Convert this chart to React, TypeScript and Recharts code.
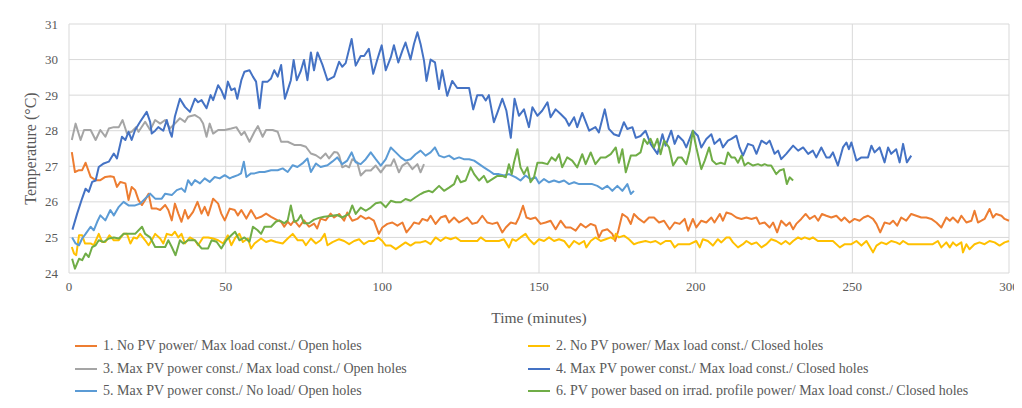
import React from 'react';
import { LineChart, Line, XAxis, YAxis, CartesianGrid } from 'recharts';

// [minute, temperature °C]
const s1: [number, number][] = [[0.9,27.4],[1.9,26.84],[3.2,26.89],[4.2,26.89],[5.3,27.1],[6.9,26.7],[8.5,26.61],[10,26.61],[11.6,26.7],[13.2,26.72],[14.3,26.7],[15.3,26.42],[16.4,26.56],[18,26.52],[19,26.05],[20,26.42],[21.1,26.33],[22.2,26.05],[23.3,25.91],[24.3,26.05],[25.4,26.23],[26.4,25.81],[28,25.81],[29.1,25.77],[30.7,25.91],[31.7,25.77],[32.8,25.48],[33.8,25.95],[34.9,25.67],[35.9,25.44],[37,25.77],[38,25.53],[39.6,25.72],[41,26.0],[42.3,25.67],[43.3,25.86],[44.4,25.62],[46,26.09],[47.6,25.95],[48.6,25.67],[49.7,25.48],[51.3,25.81],[52.9,25.77],[53.9,25.62],[55,25.77],[56.6,25.53],[58.1,25.77],[59.7,25.53],[61.3,25.58],[62.9,25.67],[64.5,25.58],[66.6,25.48],[67.7,25.44],[68.7,25.3],[69.8,25.44],[70.8,25.35],[71.9,25.48],[73.5,25.3],[75,25.48],[76.6,25.3],[78.2,25.39],[79.2,25.25],[80.3,25.53],[81.9,25.48],[83.5,25.67],[84.6,25.56],[86.2,25.66],[87.8,25.47],[88.8,25.7],[90.4,25.47],[92,25.52],[93.1,25.61],[94.7,25.52],[95.7,25.56],[97.3,25.47],[98.9,25.1],[100,25.28],[101.6,25.38],[103.2,25.42],[104.8,25.33],[106.4,25.42],[107.7,25.14],[109,25.28],[110.1,25.42],[111.7,25.38],[112.8,25.52],[114.4,25.47],[115.4,25.61],[117,25.38],[118.6,25.56],[120.2,25.61],[121.3,25.42],[122.9,25.56],[124.5,25.42],[125.5,25.47],[127.1,25.56],[128.7,25.38],[130.3,25.42],[131.9,25.61],[133.5,25.42],[135.1,25.38],[136.7,25.42],[138.3,25.14],[139.4,25.28],[141,25.42],[142.6,25.38],[143.6,25.56],[144.9,25.89],[146,25.56],[147.3,25.52],[148.9,25.56],[150.5,25.38],[152.1,25.42],[153.7,25.47],[155.3,25.23],[156.9,25.47],[158.5,25.28],[160.1,25.28],[161.7,25.19],[163.3,25.38],[164.9,25.28],[166.5,25.38],[168,25.33],[169.1,25.0],[170.2,25.19],[171.8,25.23],[173.4,25.1],[174.3,24.9],[175.3,25.19],[176.6,25.66],[178.2,25.56],[179.3,25.38],[180.3,25.66],[181.9,25.52],[183.5,25.42],[185.1,25.56],[186.7,25.56],[188.3,25.42],[189.9,25.47],[191.7,25.23],[193.3,25.42],[194.9,25.38],[196.5,25.52],[197.6,25.19],[199.1,25.52],[200.2,25.28],[201.8,25.47],[203.4,25.42],[205,25.56],[206,25.42],[207.7,25.66],[208.7,25.47],[209.8,25.7],[211.4,25.66],[213,25.56],[214.6,25.52],[216.2,25.56],[217.8,25.52],[219.4,25.56],[220.4,25.38],[222,25.42],[223.6,25.28],[224.7,25.42],[226,25.14],[227.3,25.47],[228.9,25.33],[230,25.42],[231.1,25.23],[232.1,25.38],[233.7,25.52],[235.1,25.66],[236.4,25.52],[238,25.61],[239.1,25.47],[240.3,25.66],[241.7,25.61],[243.3,25.56],[244.9,25.61],[246.5,25.47],[247.5,25.56],[249.1,25.42],[250.7,25.52],[252.3,25.47],[253.6,25.56],[255,25.61],[256.6,25.52],[257.7,25.38],[258.9,25.14],[260.3,25.42],[261.9,25.38],[263,25.47],[264.3,25.33],[265.6,25.56],[267.2,25.47],[268.8,25.66],[270.4,25.61],[272,25.56],[273.6,25.56],[275.2,25.52],[276.8,25.42],[278.4,25.28],[280,25.56],[281.1,25.47],[282.1,25.56],[283.7,25.42],[284.8,25.61],[286.4,25.42],[288,25.47],[289,25.75],[290.1,25.42],[291.2,25.47],[292.2,25.52],[293.8,25.8],[294.9,25.56],[295.9,25.66],[297.6,25.61],[298.6,25.52],[300,25.47]];

const s2: [number, number][] = [[0.9,24.73],[1.6,24.55],[2.3,24.5],[3.2,25.06],[4.2,25.06],[5.1,24.83],[6.9,24.83],[7.9,24.78],[9.5,25.1],[10.6,24.87],[11.6,24.87],[12.9,25.06],[14.3,24.92],[15.9,24.92],[17.4,25.1],[18.5,25.1],[19.6,24.83],[20.6,25.0],[21.7,24.97],[22.7,25.1],[24.3,24.92],[25.4,24.78],[26.4,24.92],[27.5,25.1],[29.1,24.97],[30.1,24.83],[31.2,25.1],[32.8,25.06],[33.8,25.16],[34.9,25.0],[35.9,25.1],[37,24.83],[38.6,25.0],[40.2,24.92],[41.2,24.78],[42.8,25.0],[44.4,25.0],[46,24.97],[47.6,24.92],[49.2,24.83],[50.7,25.06],[51.8,24.78],[53.1,25.0],[54.4,25.1],[55.5,24.87],[57.1,24.97],[58.1,24.69],[59.2,24.83],[61.3,24.97],[62.9,24.87],[64.5,24.92],[66.1,24.87],[68.2,24.83],[69.8,24.97],[71.4,25.1],[73,24.92],[74.6,24.92],[75.6,24.78],[77.2,24.97],[78.8,24.83],[80.3,24.92],[81.6,25.1],[82.5,24.78],[84.1,24.87],[86.2,24.95],[87.8,24.9],[89.4,24.81],[91,24.9],[92.6,24.95],[94.1,24.81],[95.7,24.9],[97.3,24.9],[98.7,25.0],[100,24.9],[101.1,24.77],[102.7,24.77],[104.3,24.67],[105.9,24.77],[107.4,24.86],[109,24.77],[110.6,24.86],[112.2,24.86],[113.8,24.9],[115.4,24.81],[117,25.0],[118.6,24.9],[120.2,25.0],[121.8,24.95],[123.4,25.0],[125,24.9],[127.7,24.9],[130.3,24.9],[131.4,25.0],[133,24.9],[135.1,24.9],[137.2,24.9],[138.8,24.95],[140.4,24.72],[141.5,24.95],[142.6,24.9],[144.1,25.0],[145.7,25.1],[146.8,24.95],[148.4,24.81],[150,24.95],[151.6,24.9],[153.2,25.0],[154.8,24.9],[156.4,24.95],[158,24.9],[159.6,24.72],[161.2,24.9],[162.8,24.81],[164.4,24.9],[165.1,24.72],[166.5,24.9],[168,25.0],[169.7,24.9],[171.3,24.95],[172.9,25.0],[173.9,24.95],[174.5,25.1],[175.5,25.0],[177.1,25.05],[178.7,24.95],[180.3,24.81],[181.9,24.86],[184,24.9],[185.6,24.86],[187.2,24.9],[188.8,24.81],[190.4,24.9],[192,24.9],[193.3,24.72],[194.4,24.81],[196.5,24.81],[198.1,24.81],[200.2,24.9],[201.3,24.72],[202.3,24.95],[203.9,24.9],[205.5,24.77],[207.1,24.95],[208.2,24.86],[209.8,25.0],[210.8,25.0],[211.9,24.86],[213.5,24.72],[215.1,24.81],[216.2,24.9],[217.8,24.81],[219.4,24.86],[221,24.72],[222.6,24.81],[224.1,24.95],[225.7,24.9],[227.3,24.81],[228.7,24.9],[230,24.81],[231.1,24.9],[232.7,25.0],[233.7,24.95],[234.8,25.0],[236.4,24.95],[237.4,25.0],[239,24.9],[241.7,24.9],[243.8,24.9],[246,24.72],[247.6,24.81],[249.7,24.81],[251.3,24.9],[252.9,24.77],[254.5,24.9],[256.6,24.58],[257.7,24.77],[259.3,24.86],[260.9,24.81],[262.4,24.9],[264,24.86],[265.1,24.81],[266.2,24.9],[267.8,24.81],[269.4,24.81],[271.5,24.81],[273.6,24.81],[275.7,24.81],[277.3,24.9],[278.4,24.72],[280,24.86],[281.1,24.72],[282.1,24.86],[283.2,24.77],[284.8,24.86],[285.3,24.58],[286.4,24.81],[287.4,24.67],[289,24.81],[290.6,24.86],[292.2,24.81],[293.8,24.9],[295.4,24.86],[297,24.77],[298.6,24.86],[300,24.9]];

const s3: [number, number][] = [[0.9,27.74],[2.1,28.2],[3.7,27.74],[4.8,28.02],[6.9,28.02],[8.5,27.74],[10,28.02],[11.6,27.83],[12.7,28.06],[14.3,28.1],[15.9,28.1],[17.1,28.3],[18.5,27.92],[20,27.97],[21.4,28.1],[22.2,27.97],[24.3,28.25],[25.9,28.02],[27.5,28.3],[29.1,28.2],[30.7,28.3],[32.2,28.06],[33.8,28.2],[35.4,28.35],[37,28.25],[38,28.39],[40.2,28.44],[41.8,28.35],[42.8,28.2],[43.9,27.83],[44.9,28.2],[46,27.92],[47.6,28.02],[49.7,28.02],[51.8,28.06],[53.4,28.1],[55,27.88],[56,27.97],[57.6,27.69],[59.2,27.97],[60.3,28.13],[61.8,27.83],[62.9,28.02],[65,28.02],[66.6,27.97],[67.7,27.69],[69.8,27.69],[71.9,27.6],[73.9,27.6],[75.6,27.55],[77.2,27.36],[78.8,27.31],[80.3,27.22],[81.9,27.36],[83,27.22],[84.6,27.4],[85.6,27.39],[86.2,27.31],[87.2,26.97],[88.3,27.02],[89.4,26.97],[90.4,27.2],[92,27.11],[93.1,26.74],[94.7,26.88],[96.3,26.88],[97.9,27.02],[99.5,26.83],[101.1,27.02],[102.7,27.02],[103.7,27.2],[105.3,26.83],[106.4,27.02],[108,27.11],[109.6,26.92],[111.2,27.06],[112.2,26.83],[113.3,27.06]];

const s4: [number, number][] = [[1.1,25.22],[2.6,25.67],[4.2,26.1],[5.3,26.37],[6.3,26.28],[7.4,26.56],[8.5,26.6],[9.5,26.98],[11.1,27.08],[12.7,27.13],[14.3,27.36],[15.3,27.22],[16.9,27.83],[18,27.74],[19,27.97],[20,27.74],[21.1,28.02],[22.7,28.25],[24.8,28.53],[25.9,28.25],[26.4,27.92],[27.5,28.0],[28.5,28.1],[30.1,28.0],[31.2,28.3],[32.2,27.97],[32.8,27.83],[33.8,28.4],[35.4,28.9],[37,28.67],[38.6,28.53],[40.2,28.9],[41.2,28.8],[42.3,28.86],[43.9,28.63],[45.2,29.0],[46,28.86],[47.6,29.28],[48.6,29.14],[49.7,28.9],[50.7,29.38],[51.8,29.14],[52.9,29.19],[53.7,28.9],[55,29.42],[56,29.66],[57.6,29.7],[58.7,29.52],[59.7,29.38],[60.8,28.63],[61.8,29.38],[63.4,29.38],[64.5,29.47],[65.5,29.7],[66.6,29.52],[67.7,29.85],[68.9,28.9],[69.8,29.14],[70.8,29.42],[71.7,29.99],[72.7,29.42],[73.9,29.66],[75,29.99],[76.1,29.42],[77.2,30.2],[78.2,29.7],[79.3,30.2],[80.9,29.85],[82.5,29.42],[84.6,29.52],[86.2,29.94],[87.2,29.8],[88.3,29.9],[90.2,30.58],[91.5,29.83],[93.1,30.1],[94.2,30.1],[95.7,30.3],[97.1,29.6],[98.4,30.0],[99.8,30.4],[101.1,29.7],[102.7,30.06],[103.7,30.4],[105.1,29.92],[106.4,30.25],[107.4,30.48],[109,30.0],[110.1,30.44],[111.2,30.77],[112.2,30.44],[113.3,29.97],[114.1,29.4],[115.4,30.0],[116.8,29.92],[118.1,29.17],[119.1,29.7],[120.7,28.98],[122.3,29.4],[123.9,29.2],[126,29.2],[127.7,29.2],[129,28.6],[130.3,29.0],[131.9,29.0],[133,28.85],[134,29.0],[135.6,28.24],[136.7,28.5],[138.3,28.9],[139.6,28.56],[141,27.8],[142.2,28.9],[143.6,28.42],[145.2,28.6],[146.8,28.1],[147.9,28.66],[149.5,28.42],[151,28.56],[152.7,28.8],[153.7,28.38],[155.3,28.6],[156.9,28.47],[158.5,28.33],[159.6,28.14],[161.2,28.38],[162.2,28.1],[163.8,28.5],[166,28.0],[168,28.1],[169.1,27.95],[171,28.6],[172.3,28.05],[173.9,27.9],[175.5,27.85],[177.1,28.24],[178.2,28.05],[179.8,28.1],[180.9,27.8],[182.4,27.85],[184,28.0],[185.6,27.63],[187.8,27.35],[189.4,27.9],[190.4,27.58],[192.2,28.0],[193.3,27.63],[194.4,27.86],[196,27.72],[197,27.53],[199.1,28.0],[200.7,27.86],[201.8,27.53],[203.4,27.77],[205,27.9],[206,27.63],[207.7,27.77],[208.7,27.53],[210.3,27.72],[211.4,27.77],[213,27.86],[214,27.53],[215.1,27.3],[216.7,27.63],[218.3,27.58],[219.4,27.35],[221,27.72],[222.6,27.63],[223.6,27.72],[225.2,27.35],[226.3,27.44],[227.3,27.2],[228.9,27.35],[231.1,27.58],[232.7,27.44],[234.3,27.53],[235.9,27.35],[237.4,27.44],[238.5,27.25],[240.1,27.53],[241.7,27.25],[242.8,27.25],[243.8,27.39],[245.4,27.02],[247,27.53],[248.1,27.67],[248.9,27.48],[249.7,27.67],[251.3,27.16],[252.9,27.25],[255,27.25],[256.1,27.58],[257.1,27.39],[258.7,27.53],[260.3,27.11],[261.4,27.53],[262.4,27.35],[264,27.48],[265.1,27.11],[266.2,27.63],[267.4,27.11],[268.8,27.3]];

const s5: [number, number][] = [[1,25.0],[2.1,24.83],[3.2,24.78],[4.2,24.97],[5.3,25.1],[6.9,25.3],[7.9,25.2],[9,25.44],[10,25.62],[11.6,25.48],[13.2,25.77],[14.3,25.62],[15.9,25.86],[17.4,26.0],[19,25.9],[21.1,25.9],[22.7,25.95],[24.3,26.09],[25.9,26.23],[27.5,26.09],[29.6,26.09],[30.7,26.23],[32.8,26.19],[34.4,26.33],[35.9,26.38],[37,26.28],[38,26.61],[39.1,26.47],[40.2,26.61],[41.8,26.52],[43.3,26.66],[44.9,26.56],[46.5,26.7],[48.1,26.66],[49.7,26.75],[51.3,26.66],[52.3,26.7],[53.9,26.75],[54.9,26.8],[55.8,27.13],[56.6,26.7],[58.1,26.8],[59.2,26.8],[60.8,26.84],[62.4,26.84],[64.5,26.89],[66.6,26.89],[68.2,26.94],[69.8,26.84],[71.4,27.03],[72.9,26.98],[74.5,27.08],[76.1,27.22],[77.2,26.84],[78.8,27.08],[80.3,26.98],[82.5,27.03],[84,27.13],[85.6,27.25],[87.2,27.06],[88.8,27.16],[90.2,27.39],[91.5,27.11],[93.1,27.06],[94.7,27.2],[96.3,27.39],[97.9,27.2],[99.5,27.02],[101.1,27.2],[102.7,27.53],[104.3,27.39],[105.9,27.25],[107.4,27.16],[109,27.2],[110.6,27.34],[112.2,27.44],[113.8,27.3],[115.4,27.39],[116.8,27.53],[118.1,27.3],[119.7,27.25],[121.3,27.3],[122.9,27.2],[124.5,27.25],[126,27.2],[127.7,27.2],[129.3,27.16],[130.9,27.06],[132.4,26.97],[134,26.88],[135.6,26.78],[137.2,26.78],[138.8,26.74],[140.4,26.78],[142.6,26.69],[144.1,26.6],[145.7,26.74],[147.3,26.64],[148.9,26.69],[150,26.52],[151.6,26.64],[153.2,26.55],[154.8,26.6],[156.4,26.55],[158,26.6],[159.6,26.5],[161.2,26.55],[162.8,26.5],[164.9,26.5],[167,26.5],[168.6,26.45],[170.2,26.36],[171.8,26.45],[173.4,26.31],[175,26.45],[176.6,26.31],[178.2,26.5],[179.3,26.22],[180.3,26.31]];

const s6: [number, number][] = [[1,24.4],[1.9,24.12],[3.2,24.4],[4.2,24.36],[5.3,24.55],[6.3,24.45],[7.4,24.73],[8.5,24.78],[9.5,24.92],[11.1,24.87],[12.7,24.97],[14.3,25.0],[15.9,24.97],[17.4,25.1],[19.5,25.1],[21.1,25.1],[23.3,25.3],[24.3,25.1],[25.9,25.0],[27.5,24.73],[29.1,24.73],[30.7,24.73],[31.7,24.92],[32.8,24.73],[34,24.5],[35.4,24.92],[36.5,24.83],[38,24.92],[40.2,24.92],[42.3,24.69],[44.4,24.69],[45.5,24.92],[47.1,24.88],[48.6,24.69],[50.2,24.92],[51.8,25.06],[53,25.16],[54.4,24.92],[56,25.0],[57.6,24.88],[58.7,25.3],[60.2,25.2],[61.3,25.1],[62.4,25.3],[64.5,25.3],[66,25.44],[67.1,25.48],[68.7,25.4],[69.8,25.48],[70.8,25.9],[71.9,25.44],[73,25.48],[74,25.63],[75,25.4],[76.6,25.4],[78.2,25.5],[79.8,25.55],[81.4,25.58],[83.5,25.6],[85.6,25.63],[87.2,25.56],[89.4,25.66],[90.4,25.9],[91.5,25.66],[93.1,25.84],[94.7,25.75],[96.3,25.84],[97.9,25.96],[99.5,25.99],[101.1,25.85],[102.7,26.03],[104.3,25.99],[105.9,25.99],[107.4,26.08],[109,26.03],[110.6,26.13],[112.2,26.22],[113.3,26.27],[114.9,26.31],[116,26.27],[118.1,26.45],[119.7,26.31],[121.3,26.4],[122.9,26.5],[123.9,26.73],[125,26.55],[126.6,26.6],[128.2,26.97],[129.3,26.78],[130.9,26.6],[132.4,26.73],[133.5,26.55],[135.1,26.64],[136.7,26.73],[138.3,26.73],[139.4,26.69],[140.4,27.06],[141.3,26.78],[142,27.1],[143.1,27.48],[144.1,26.97],[145.2,26.78],[146.3,26.97],[147.3,26.55],[148.4,26.69],[149.5,27.1],[151,27.1],[152.7,27.06],[154,27.25],[155.3,27.16],[156.4,27.34],[157.4,26.97],[159,27.25],[160.6,27.16],[162.2,26.97],[163.8,27.34],[164.9,27.06],[166.5,27.39],[168,27.06],[169.7,27.25],[171.3,27.25],[172.9,27.34],[174.5,27.53],[175.5,27.1],[176.6,27.48],[177.7,26.83],[179.3,27.3],[180.9,27.3],[182.4,27.39],[183.5,27.77],[184.6,27.63],[185.6,27.77],[186.7,27.53],[187.8,27.77],[188.8,27.34],[189.9,27.72],[191.5,27.53],[192.8,27.02],[194.4,27.25],[195.5,27.25],[197,27.06],[198.1,27.44],[199.1,28.0],[200.2,27.53],[201.8,26.92],[202.9,27.16],[204.3,27.53],[205.3,27.16],[206.6,27.06],[208,27.1],[209.3,27.06],[210.3,27.39],[211.4,27.25],[212.5,27.25],[213.5,27.1],[214.6,27.3],[215.6,27.02],[216.7,27.1],[218.3,27.02],[219.9,27.06],[221,27.02],[222,27.06],[223.1,27.02],[224.1,27.02],[225.7,26.78],[226.8,26.88],[228.1,26.92],[229.1,26.5],[230,26.69],[231.1,26.6]];

const seriesNames = [
  '1. No PV power/ Max load const./ Open holes',
  '2. No PV power/ Max load const./ Closed holes',
  '3. Max PV power const./ Max load const./ Open holes',
  '4. Max PV power const./ Max load const./ Closed holes',
  '5. Max PV power const./ No load/ Open holes',
  '6. PV power based on irrad. profile power/ Max load const./ Closed holes',
];
const seriesColors = ['#ED7D31', '#FFC000', '#A5A5A5', '#4472C4', '#5B9BD5', '#70AD47'];
const seriesData = [s1, s2, s3, s4, s5, s6];

const xTicks = [0, 50, 100, 150, 200, 250, 300];
const yTicks = [24, 25, 26, 27, 28, 29, 30, 31];

const FONT = '"Liberation Serif", "Times New Roman", serif';
const TEXT = '#595959';

const toPoints = (s: [number, number][]) => s.map(([t, v]) => ({ t, v }));

const renderYLabel = (props: any) => {
  const vb = props.viewBox || {};
  const cy = (vb.y ?? 16) + (vb.height ?? 249) / 2;
  const cx = 22;
  return (
    <text
      x={cx}
      y={cy}
      transform={`rotate(-90, ${cx}, ${cy})`}
      textAnchor="middle"
      dominantBaseline="central"
      fontFamily={FONT}
      fontSize={16}
      fill={TEXT}
    >
      Temperature (°C)
    </text>
  );
};

export default function App() {
  const W = 1014;
  return (
    <div
      style={{
        position: 'relative',
        width: W,
        height: 400,
        marginLeft: -1,
        marginTop: -1,
        border: '1px solid #D9D9D9',
        fontFamily: FONT,
      }}
    >
      <LineChart width={W} height={330} margin={{ top: 16, right: 13, left: 21, bottom: 5 }}>
        <CartesianGrid stroke="#D9D9D9" strokeWidth={1} vertical={true} horizontal={true} />
        <XAxis
          dataKey="t"
          type="number"
          domain={[0, 300]}
          ticks={xTicks}
          interval={0}
          axisLine={false}
          tickLine={false}
          tickSize={0}
          tickMargin={9}
          height={60}
          tick={{ fontFamily: FONT, fontSize: 13, fill: TEXT }}
          label={{ value: 'Time (minutes)', position: 'insideBottom', offset: 10, fontFamily: FONT, fontSize: 15.5, fill: TEXT }}
        />
        <YAxis
          type="number"
          domain={[24, 31]}
          ticks={yTicks}
          interval={0}
          axisLine={false}
          tickLine={false}
          tickSize={0}
          tickMargin={11}
          width={40}
          tick={{ fontFamily: FONT, fontSize: 13, fill: TEXT }}
          label={renderYLabel}
        />
        {seriesData.map((s, i) => (
          <Line
            key={i}
            data={toPoints(s)}
            dataKey="v"
            type="linear"
            stroke={seriesColors[i]}
            strokeWidth={2}
            dot={false}
            activeDot={false}
            isAnimationActive={false}
            name={seriesNames[i]}
            strokeLinejoin="round"
          />
        ))}
      </LineChart>
      {seriesNames.map((n, i) => {
        const col = i % 2;
        const row = Math.floor(i / 2);
        return (
          <div
            key={n}
            style={{
              position: 'absolute',
              left: col === 0 ? 67 : 520,
              top: 338 + row * 22.5 - 9,
              height: 18,
              display: 'flex',
              alignItems: 'center',
              whiteSpace: 'nowrap',
              fontSize: 14,
              color: TEXT,
            }}
          >
            <span style={{ display: 'inline-block', width: 22, height: 2, background: seriesColors[i], marginRight: 6 }} />
            <span>{n}</span>
          </div>
        );
      })}
    </div>
  );
}
